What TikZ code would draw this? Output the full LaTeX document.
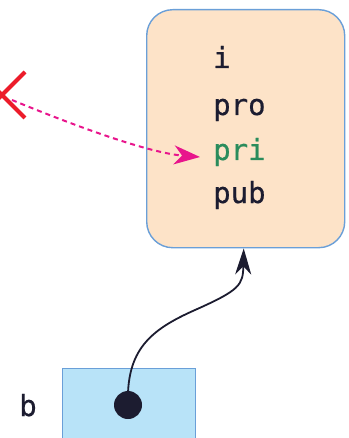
\documentclass[tikz,border=0pt]{standalone}
\usepackage{fontspec}
\newfontfamily\memfont{DejaVu Sans Mono}[FakeBold=0.6]
\usetikzlibrary{arrows.meta}
\definecolor{peach}{HTML}{FDE3C8}
\definecolor{objline}{HTML}{6A9FD8}
\definecolor{ptrfill}{HTML}{B8E3F8}
\definecolor{ink}{HTML}{1C1C30}
\definecolor{prigreen}{HTML}{2A8C5C}
\definecolor{mag}{HTML}{E8158C}
\definecolor{xred}{HTML}{EC1C2A}
\tikzset{
  objbox/.style={draw=objline, line width=1.4pt, fill=peach, rounded corners=26pt, inner sep=0pt},
  ptrbox/.style={draw=objline, line width=1.2pt, fill=ptrfill, inner sep=0pt},
  member/.style={font=\fontsize{29}{31}\memfont, text=ink, inner sep=0pt, anchor=base west},
  dotnode/.style={circle, fill=ink, minimum size=28pt, inner sep=0pt},
  refline/.style={draw=ink, line width=1.8pt, -{Stealth[length=26pt,width=16pt,inset=8pt]}},
  badref/.style={draw=mag, line width=2pt, dash pattern=on 5pt off 4pt, -{Stealth[length=26pt,width=19pt,inset=8pt]}},
  crossline/.style={draw=xred, line width=4pt}
}
\begin{document}
\begin{tikzpicture}[x=1pt,y=-1pt]
\useasboundingbox (0,0) rectangle (348,438);
\clip (0,0) rectangle (348,438);
% object
\node[objbox, minimum width=198pt, minimum height=238pt, anchor=north west] (obj) at (146,9) {};
\node[member] (mi) at (213,68) {i};
\node[member] (mpro) at (213,115) {pro};
\node[member, text=prigreen] (mpri) at (213,160) {pri};
\node[member] (mpub) at (213,203) {pub};
% pointer variable
\node[ptrbox, minimum width=133pt, minimum height=100pt, anchor=north west] (ptr) at (62,368) {};
\node[font=\fontsize{29}{31}\memfont, text=ink, inner sep=0pt, anchor=base] (blab) at (28,416) {b};
\node[dotnode] (dot) at (128,405) {};
% cross
\coordinate (xc) at (2,95);
\draw[crossline] ([shift={(-23,-23)}]xc) -- ([shift={(23,23)}]xc);
\draw[crossline] ([shift={(-23,23)}]xc) -- ([shift={(23,-23)}]xc);
% dashed reference
\draw[badref] ([shift={(10,5)}]xc) .. controls (80,128) and (150,153) .. ([xshift=-13pt,yshift=-5pt]mpri.west);
% pointer reference
\draw[refline] (dot.center) .. controls (126,350) and (150,330) .. (195,310) .. controls (240,290) and (243,285) .. ([xshift=-2pt]obj.south);
\end{tikzpicture}
\end{document}
